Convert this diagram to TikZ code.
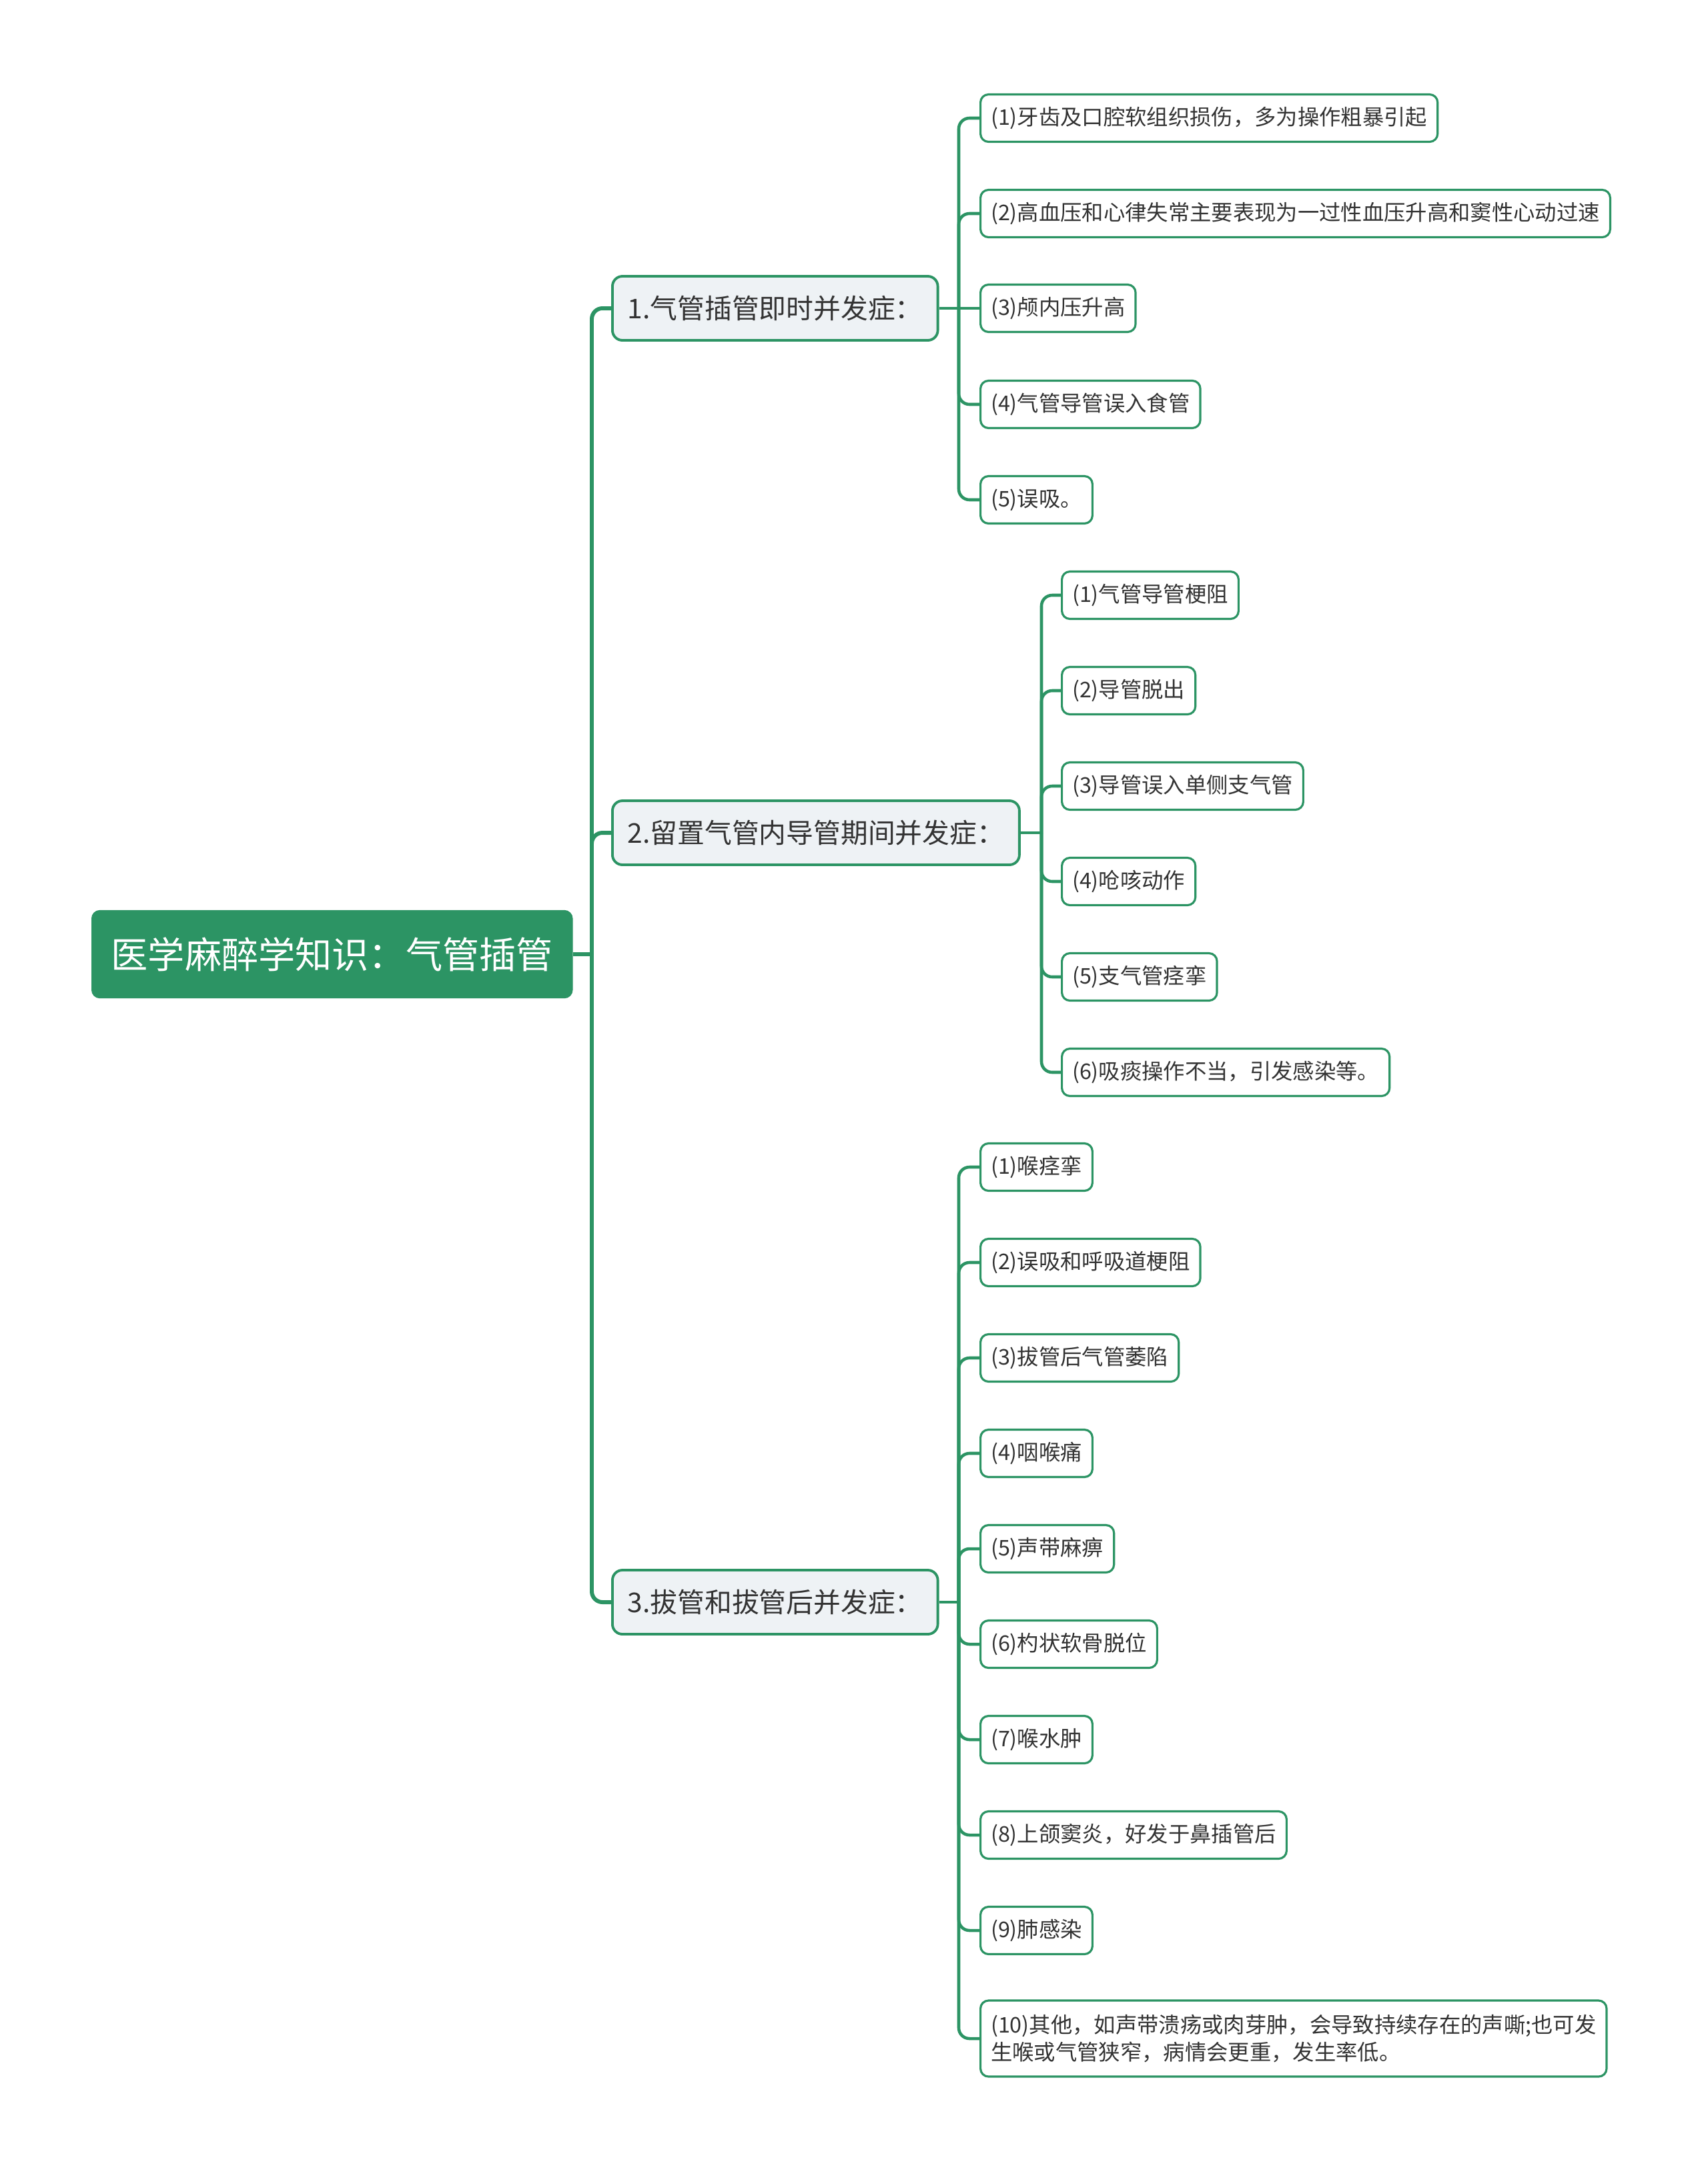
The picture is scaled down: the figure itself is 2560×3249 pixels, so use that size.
\documentclass[tikz,border=0pt]{standalone}
\usepackage{fontspec}
\setmainfont{Noto Sans CJK SC}
\usepackage{xcolor}
\usetikzlibrary{math}

\definecolor{mapgreen}{RGB}{44,148,100}
\definecolor{subfill}{RGB}{238,242,245}
\definecolor{txtgray}{RGB}{51,51,51}

\tikzset{
  rootbox/.style={draw=mapgreen, fill=mapgreen, text=white, rounded corners=1.2mm,
    font=\fontsize{15.7}{18}\selectfont, inner xsep=2.9mm, minimum height=13.1mm, anchor=west},
  subbox/.style={draw=mapgreen, line width=1.1pt, fill=subfill, text=txtgray, rounded corners=1.5mm,
    font=\fontsize{11.6}{14}\selectfont, inner xsep=2.3mm, minimum height=9.6mm, anchor=west},
  leafbox/.style={draw=mapgreen, line width=0.9pt, fill=white, text=txtgray, rounded corners=1.2mm,
    font=\fontsize{9.2}{11.9}\selectfont, inner xsep=1.55mm, minimum height=7.1mm, anchor=west},
  link/.style={draw=mapgreen, line width=1.3pt, rounded corners=1.6mm},
}

\begin{document}
\begin{tikzpicture}[x=0.1mm, y=-0.1mm]
\tikzmath{
\xr=887; \xa=1437; \xb=1561;
}
\fill[white] (0,0) rectangle (2560,3249);
\useasboundingbox (0,0) rectangle (2560,3249);

% root and first level
\node[rootbox] (root) at (137,1430) {医学麻醉学知识：气管插管};
\node[subbox] (sub1) at (916,462) {1.气管插管即时并发症：};
\node[subbox] (sub2) at (916,1248) {2.留置气管内导管期间并发症：};
\node[subbox] (sub3) at (916,2401) {3.拔管和拔管后并发症：};

% leaves
\node[leafbox] (a1) at (1468,177) {(1)牙齿及口腔软组织损伤，多为操作粗暴引起};
\node[leafbox] (a2) at (1468,320) {(2)高血压和心律失常主要表现为一过性血压升高和窦性心动过速};
\node[leafbox] (a3) at (1468,462) {(3)颅内压升高};
\node[leafbox] (a4) at (1468,606) {(4)气管导管误入食管};
\node[leafbox] (a5) at (1468,749) {(5)误吸。};

\node[leafbox] (b1) at (1590,892) {(1)气管导管梗阻};
\node[leafbox] (b2) at (1590,1035) {(2)导管脱出};
\node[leafbox] (b3) at (1590,1178) {(3)导管误入单侧支气管};
\node[leafbox] (b4) at (1590,1321) {(4)呛咳动作};
\node[leafbox] (b5) at (1590,1464) {(5)支气管痉挛};
\node[leafbox] (b6) at (1590,1607) {(6)吸痰操作不当，引发感染等。};

\node[leafbox] (c1) at (1468,1749) {(1)喉痉挛};
\node[leafbox] (c2) at (1468,1892) {(2)误吸和呼吸道梗阻};
\node[leafbox] (c3) at (1468,2035) {(3)拔管后气管萎陷};
\node[leafbox] (c4) at (1468,2178) {(4)咽喉痛};
\node[leafbox] (c5) at (1468,2321) {(5)声带麻痹};
\node[leafbox] (c6) at (1468,2464) {(6)杓状软骨脱位};
\node[leafbox] (c7) at (1468,2607) {(7)喉水肿};
\node[leafbox] (c8) at (1468,2750) {(8)上颌窦炎，好发于鼻插管后};
\node[leafbox] (c9) at (1468,2893) {(9)肺感染};
\node[leafbox, align=left, minimum height=11.4mm] (c10) at (1468,3055)
  {(10)其他，如声带溃疡或肉芽肿，会导致持续存在的声嘶;也可发\\生喉或气管狭窄，病情会更重，发生率低。};

% connectors
\draw[link, line width=1.7pt] (root.east) -- (\xr,1430) coordinate (jr);
\draw[link, line width=1.7pt] (jr) |- (sub1.west);
\draw[link, line width=1.7pt] (jr) |- (sub2.west);
\draw[link, line width=1.7pt] (jr) |- (sub3.west);

\draw[link] (sub1.east) -- (\xa,462) coordinate (ja);
\draw[link] (ja) |- (a1.west);
\draw[link] (ja) |- (a2.west);
\draw[link] (ja) -- (a3.west);
\draw[link] (ja) |- (a4.west);
\draw[link] (ja) |- (a5.west);

\draw[link] (sub2.east) -- (\xb,1248) coordinate (jb);
\draw[link] (jb) |- (b1.west);
\draw[link] (jb) |- (b2.west);
\draw[link] (jb) |- (b3.west);
\draw[link] (jb) |- (b4.west);
\draw[link] (jb) |- (b5.west);
\draw[link] (jb) |- (b6.west);

\draw[link] (sub3.east) -- (\xa,2401) coordinate (jc);
\draw[link] (jc) |- (c1.west);
\draw[link] (jc) |- (c2.west);
\draw[link] (jc) |- (c3.west);
\draw[link] (jc) |- (c4.west);
\draw[link] (jc) |- (c5.west);
\draw[link] (jc) |- (c6.west);
\draw[link] (jc) |- (c7.west);
\draw[link] (jc) |- (c8.west);
\draw[link] (jc) |- (c9.west);
\draw[link] (jc) |- (c10.west);
\end{tikzpicture}
\end{document}
